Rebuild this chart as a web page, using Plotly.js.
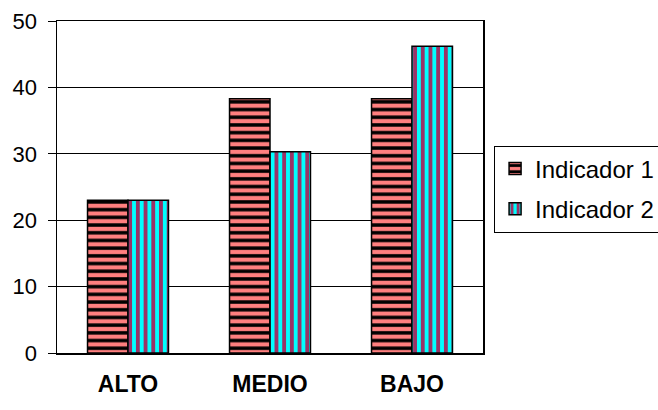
<!DOCTYPE html>
<html>
<head>
<meta charset="utf-8">
<script src="https://cdn.plot.ly/plotly-3.0.1.min.js"></script>
<style>html,body{margin:0;padding:0;background:#fff;}#chart{width:658px;height:410px;}</style>
</head>
<body>
<div id="chart"></div>
<script>
var categories = ["ALTO", "MEDIO", "BAJO"];
var indicador1 = [23, 38.3, 38.3];
var indicador2 = [23, 30.3, 46.2];
var seriesNames = ["Indicador 1", "Indicador 2"];
var yTicks = [0, 10, 20, 30, 40, 50];

var traces = [
  {
    type: "bar", name: seriesNames[0], x: categories, y: indicador1, legendgroup: "a",
    marker: {
      color: "#FF7F7F",
      line: {color: "#000", width: 1.5},
      pattern: {shape: "-", fillmode: "replace", bgcolor: "#FF7F7F", fgcolor: "#000000", size: 7.7, solidity: 0.45}
    },
    hoverinfo: "none"
  },
  {
    type: "bar", name: seriesNames[1], x: categories, y: indicador2, legendgroup: "b",
    marker: {
      color: "#00FFFF",
      line: {color: "#000", width: 1.5},
      pattern: {shape: "|", fillmode: "replace", bgcolor: "#00FFFF", fgcolor: "#993366", size: 7.7, solidity: 0.5}
    },
    hoverinfo: "none"
  }
];

var layout = {
  width: 658, height: 410,
  margin: {l: 57, r: 175, t: 21, b: 57, pad: 0, autoexpand: false},
  paper_bgcolor: "#fff", plot_bgcolor: "#fff",
  font: {family: "Liberation Sans, Arial, sans-serif", size: 22, color: "#000"},
  barmode: "group", bargap: 0.43, bargroupgap: 0,
  showlegend: true,
  legend: {
    x: 1.026, xanchor: "left", y: 0.625, yanchor: "top",
    bordercolor: "#000", borderwidth: 1, bgcolor: "#fff",
    font: {size: 24}, tracegroupgap: 6, traceorder: "grouped",
    itemwidth: 30
  },
  xaxis: {
    showline: true, linecolor: "#000", linewidth: 1.5, mirror: true,
    ticks: "", tickfont: {size: 23, family: "Liberation Sans, Arial, sans-serif", weight: "bold"},
    ticklabelstandoff: 10, showgrid: false, zeroline: false, fixedrange: true
  },
  yaxis: {
    range: [0, 50], tickvals: yTicks, ticktext: yTicks.map(String),
    showline: true, linecolor: "#000", linewidth: 1.5, mirror: true,
    ticks: "outside", ticklen: 8, tickcolor: "#000", tickwidth: 1,
    showgrid: true, gridcolor: "#000", gridwidth: 1, zeroline: false,
    tickfont: {size: 22}, ticklabelstandoff: 6, fixedrange: true
  }
};

Plotly.newPlot("chart", traces, layout, {staticPlot: true});
</script>
</body>
</html>
